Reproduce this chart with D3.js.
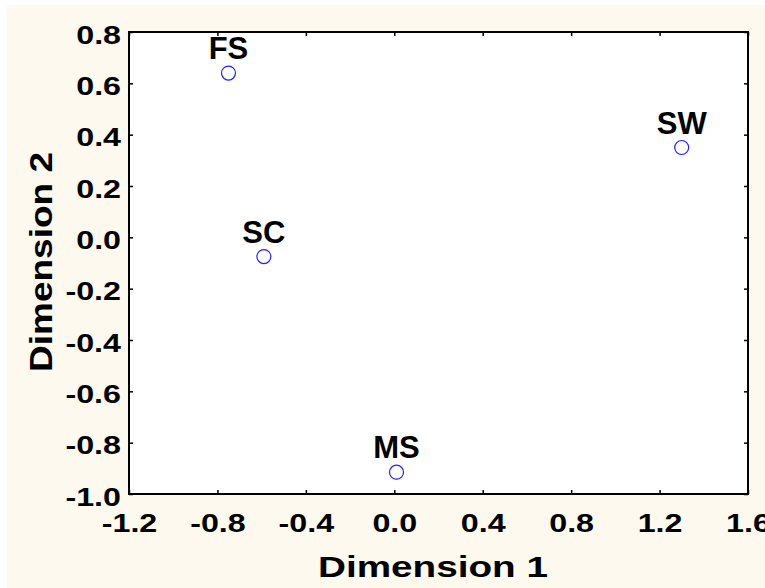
<!DOCTYPE html>
<html>
<head>
<meta charset="utf-8">
<script src="https://cdn.jsdelivr.net/npm/d3@7"></script>
<style>
	body { margin: 0; background: #ffffff; }
	svg { display: block; }
	text { font-family: "Liberation Sans", Arial, sans-serif; font-weight: bold; fill: #000; }
</style>
</head>
<body>
<div id="chart"></div>
<script>

// points
var names = ['FS', 'SW', 'SC', 'MS'];
var dim1 = [-0.75, 1.30, -0.59, 0.01];
var dim2 = [0.64, 0.35, -0.075, -0.915];

var xTicks = [-1.2, -0.8, -0.4, 0.0, 0.4, 0.8, 1.2, 1.6];
var xTickLabels = ['-1.2', '-0.8', '-0.4', '0.0', '0.4', '0.8', '1.2', '1.6'];
var yTicks = [0.8, 0.6, 0.4, 0.2, 0.0, -0.2, -0.4, -0.6, -0.8, -1.0];
var yTickLabels = ['0.8', '0.6', '0.4', '0.2', '0.0', '-0.2', '-0.4', '-0.6', '-0.8', '-1.0'];

chart = {
	width: 765,
	height: 588,
	left: 129,
	right: 748,
	top: 32,
	bottom: 494,
	stretch: 1.24,

	draw: function() {
		var svg = d3.select('#chart').append('svg')
			.attr('width', this.width)
			.attr('height', this.height);

		// cream page
		svg.append('rect')
			.attr('x', 7).attr('y', 5)
			.attr('width', this.width - 7).attr('height', this.height - 5)
			.attr('fill', '#fdf9ee');

		var x = d3.scaleLinear().domain([-1.2, 1.6]).range([this.left, this.right]);
		var y = d3.scaleLinear().domain([-1.0, 0.8]).range([this.bottom, this.top]);

		svg.append('rect')
			.attr('x', this.left).attr('y', this.top)
			.attr('width', this.right - this.left).attr('height', this.bottom - this.top)
			.attr('fill', '#ffffff');

		var s = this.stretch;

		// bottom axis with labels
		var gx = svg.append('g')
			.attr('transform', 'translate(0,' + this.bottom + ')')
			.call(d3.axisBottom(x).tickValues(xTicks).tickSizeInner(-4).tickSizeOuter(0)
				.tickFormat(function(d, i) { return xTickLabels[i]; }));
		gx.selectAll('text')
			.attr('y', 38).attr('dy', null)
			.attr('transform', 'scale(' + s + ',1)')
			.style('font-size', '26px');

		// left axis with labels
		var gy = svg.append('g')
			.attr('transform', 'translate(' + this.left + ',0)')
			.call(d3.axisLeft(y).tickValues(yTicks).tickSizeInner(-4).tickSizeOuter(0)
				.tickFormat(function(d, i) { return yTickLabels[i]; }));
		gy.selectAll('text')
			.attr('x', -8 / s).attr('dy', null).attr('y', 11)
			.attr('transform', 'scale(' + s + ',1)')
			.style('font-size', '26px');

		// top and right ticks, no labels
		svg.append('g')
			.attr('transform', 'translate(0,' + this.top + ')')
			.call(d3.axisTop(x).tickValues(xTicks).tickSizeInner(-4).tickSizeOuter(0).tickFormat(''));
		svg.append('g')
			.attr('transform', 'translate(' + this.right + ',0)')
			.call(d3.axisRight(y).tickValues(yTicks).tickSizeInner(-4).tickSizeOuter(0).tickFormat(''));

		svg.selectAll('.domain').remove();
		svg.selectAll('.tick line').attr('stroke', '#000').attr('stroke-width', 1.5);

		// frame
		svg.append('rect')
			.attr('x', this.left).attr('y', this.top)
			.attr('width', this.right - this.left).attr('height', this.bottom - this.top)
			.attr('fill', 'none')
			.attr('stroke', '#000')
			.attr('stroke-width', 2);

		// axis titles
		svg.append('text')
			.attr('x', 433).attr('y', 577)
			.attr('text-anchor', 'middle')
			.attr('textLength', 230)
			.attr('lengthAdjust', 'spacingAndGlyphs')
			.style('font-size', '30px')
			.text('Dimension 1');

		svg.append('text')
			.attr('transform', 'translate(52,262) rotate(-90)')
			.attr('text-anchor', 'middle')
			.attr('textLength', 220)
			.attr('lengthAdjust', 'spacingAndGlyphs')
			.style('font-size', '32px')
			.text('Dimension 2');

		var pts = names.map(function(n, i) { return { name: n, x: dim1[i], y: dim2[i] }; });

		svg.selectAll('.pt').data(pts)
			.enter().append('circle')
				.attr('class', 'pt')
				.attr('cx', function(d) { return x(d.x); })
				.attr('cy', function(d) { return y(d.y); })
				.attr('r', 7)
				.attr('fill', 'none')
				.attr('stroke', '#2020ff')
				.attr('stroke-width', 1.2);

		svg.selectAll('.lbl').data(pts)
			.enter().append('text')
				.attr('class', 'lbl')
				.attr('x', function(d) { return x(d.x); })
				.attr('y', function(d) { return y(d.y) - 14; })
				.attr('text-anchor', 'middle')
				.style('font-size', '31px')
				.text(function(d) { return d.name; });
	}
}

window.onload = function() {
	chart.draw();
}
</script>
</body>
</html>
